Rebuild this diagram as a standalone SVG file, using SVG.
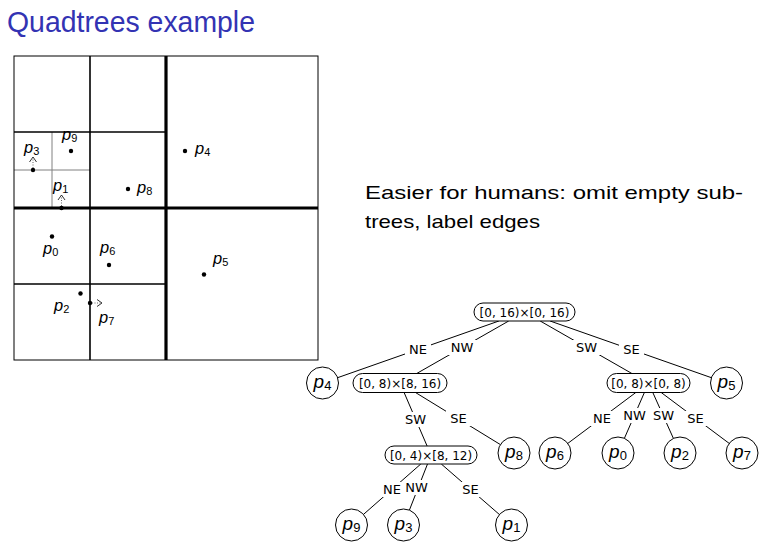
<svg xmlns="http://www.w3.org/2000/svg" width="767" height="549" viewBox="0 0 767 549">
<defs>
<style>
.title{font-family:"Liberation Sans","DejaVu Sans",sans-serif;font-size:29px;fill:#3333b3}
.body{font-family:"Liberation Sans","DejaVu Sans",sans-serif;font-size:19px;fill:#000}
.pl{font-family:"Liberation Sans","DejaVu Sans",sans-serif;font-size:16.5px;fill:#000}
.pi{font-style:italic}
.sub{font-size:11px}
.grid{fill:none;stroke:#000}
.thin{stroke:#808080;stroke-width:1}
.dot{fill:#000}
.mk{stroke:#666;stroke-width:1;stroke-dasharray:1 1.5;fill:none}
.box{fill:#fff;stroke:#000;stroke-width:1}
.bt{font-family:"DejaVu Sans",sans-serif;font-size:12px;text-anchor:middle;fill:#000}
.ct{font-family:"Liberation Sans","DejaVu Sans",sans-serif;font-size:19px;text-anchor:middle;fill:#000}
.cs{font-size:13px}
.edge{stroke:#000;stroke-width:1;fill:none}
.lb{fill:#fff}
.lt{font-family:"DejaVu Sans",sans-serif;font-size:13px;text-anchor:middle;fill:#000}
</style>
<marker id="ah" viewBox="0 0 10 10" refX="7" refY="5" markerWidth="10" markerHeight="10" markerUnits="userSpaceOnUse" orient="auto">
<path d="M2,1.5 L7,5 L2,8.5" fill="none" stroke="#333" stroke-width="1"/>
</marker>
</defs>
<rect width="767" height="549" fill="#fff"/>
<text class="title" x="7" y="32" textLength="248" lengthAdjust="spacingAndGlyphs">Quadtrees example</text>

<g id="quadtree-plane">
<line class="thin" x1="52" y1="132" x2="52" y2="208"/>
<line class="thin" x1="14" y1="170" x2="90" y2="170"/>
<line class="grid" stroke-width="1.6" x1="90" y1="56" x2="90" y2="360"/>
<line class="grid" stroke-width="1.6" x1="14" y1="132" x2="166" y2="132"/>
<line class="grid" stroke-width="1.6" x1="14" y1="284" x2="166" y2="284"/>
<line class="grid" stroke-width="3.2" x1="166" y1="56" x2="166" y2="360"/>
<line class="grid" stroke-width="3.2" x1="14" y1="208" x2="318" y2="208"/>
<rect class="grid" stroke-width="1" x="14" y="56" width="304" height="304"/>
<circle class="dot" cx="33" cy="170" r="2.2"/>
<circle class="dot" cx="71" cy="151" r="2.2"/>
<circle class="dot" cx="61.5" cy="208" r="2.2"/>
<circle class="dot" cx="128" cy="189" r="2.2"/>
<circle class="dot" cx="185" cy="151" r="2.2"/>
<circle class="dot" cx="52" cy="236.5" r="2.2"/>
<circle class="dot" cx="109" cy="265" r="2.2"/>
<circle class="dot" cx="204" cy="274.5" r="2.2"/>
<circle class="dot" cx="80.5" cy="293.5" r="2.2"/>
<circle class="dot" cx="90" cy="303" r="2.2"/>
<line class="mk" x1="33" y1="168" x2="33" y2="157" marker-end="url(#ah)"/>
<line class="mk" x1="61.5" y1="206" x2="61.5" y2="195" marker-end="url(#ah)"/>
<line class="mk" x1="92" y1="303" x2="102" y2="303" marker-end="url(#ah)"/>
<text class="pl" x="24" y="153"><tspan class="pi">p</tspan><tspan class="sub" dy="2">3</tspan></text>
<text class="pl" x="62" y="140"><tspan class="pi">p</tspan><tspan class="sub" dy="2">9</tspan></text>
<text class="pl" x="53" y="191"><tspan class="pi">p</tspan><tspan class="sub" dy="2">1</tspan></text>
<text class="pl" x="137" y="193"><tspan class="pi">p</tspan><tspan class="sub" dy="2">8</tspan></text>
<text class="pl" x="195" y="154"><tspan class="pi">p</tspan><tspan class="sub" dy="2">4</tspan></text>
<text class="pl" x="43" y="254"><tspan class="pi">p</tspan><tspan class="sub" dy="2">0</tspan></text>
<text class="pl" x="100" y="253"><tspan class="pi">p</tspan><tspan class="sub" dy="2">6</tspan></text>
<text class="pl" x="213" y="264"><tspan class="pi">p</tspan><tspan class="sub" dy="2">5</tspan></text>
<text class="pl" x="54" y="311"><tspan class="pi">p</tspan><tspan class="sub" dy="2">2</tspan></text>
<text class="pl" x="99" y="323"><tspan class="pi">p</tspan><tspan class="sub" dy="2">7</tspan></text>
</g>

<g id="caption">
<text class="body" x="365" y="199" textLength="378" lengthAdjust="spacingAndGlyphs">Easier for humans:  omit empty sub-</text>
<text class="body" x="365" y="228" textLength="175" lengthAdjust="spacingAndGlyphs">trees, label edges</text>
</g>

<g id="connectors">
<line class="edge" x1="498.9" y1="321" x2="337.6" y2="377.7"/>
<line class="edge" x1="508.7" y1="321" x2="416.7" y2="373.5"/>
<line class="edge" x1="540.2" y1="321" x2="631.9" y2="373.5"/>
<line class="edge" x1="550.1" y1="321" x2="711.4" y2="377.7"/>
<line class="edge" x1="404.1" y1="392.5" x2="427.1" y2="446"/>
<line class="edge" x1="415.5" y1="392.5" x2="500.4" y2="444.6"/>
<line class="edge" x1="635.8" y1="392.5" x2="567.8" y2="443.4"/>
<line class="edge" x1="644.4" y1="392.5" x2="624.4" y2="438.3"/>
<line class="edge" x1="652.8" y1="392.5" x2="673.4" y2="438.4"/>
<line class="edge" x1="661.2" y1="392.5" x2="729.2" y2="443.4"/>
<line class="edge" x1="420.8" y1="464" x2="363.5" y2="514.4"/>
<line class="edge" x1="427.5" y1="464" x2="409.4" y2="510.1"/>
<line class="edge" x1="441.3" y1="464" x2="499.4" y2="514.5"/>
<rect class="lb" x="405" y="342" width="26" height="15"/>
<text class="lt" x="418" y="354">NE</text>
<rect class="lb" x="448" y="340" width="28" height="15"/>
<text class="lt" x="462" y="352">NW</text>
<rect class="lb" x="573" y="340" width="27" height="15"/>
<text class="lt" x="586.5" y="352">SW</text>
<rect class="lb" x="619" y="342" width="25" height="15"/>
<text class="lt" x="631.5" y="354">SE</text>
<rect class="lb" x="402" y="412" width="27" height="15"/>
<text class="lt" x="415.5" y="424">SW</text>
<rect class="lb" x="446" y="411" width="25" height="15"/>
<text class="lt" x="458.5" y="423">SE</text>
<rect class="lb" x="589" y="411" width="26" height="15"/>
<text class="lt" x="602" y="423">NE</text>
<rect class="lb" x="621" y="408" width="27" height="15"/>
<text class="lt" x="634.5" y="420">NW</text>
<rect class="lb" x="650" y="408" width="27" height="15"/>
<text class="lt" x="663.5" y="420">SW</text>
<rect class="lb" x="683" y="411" width="25" height="15"/>
<text class="lt" x="695.5" y="423">SE</text>
<rect class="lb" x="379" y="482" width="26" height="15"/>
<text class="lt" x="392" y="494">NE</text>
<rect class="lb" x="403" y="480" width="27" height="15"/>
<text class="lt" x="416.5" y="492">NW</text>
<rect class="lb" x="458" y="482" width="25" height="15"/>
<text class="lt" x="470.5" y="494">SE</text>
</g>

<g id="node-root">
<rect class="box" x="474" y="303" width="101" height="18" rx="9"/>
<text class="bt" x="524.5" y="316.5">[0, 16)×[0, 16)</text>
</g>
<g id="node-nw">
<rect class="box" x="353" y="373.5" width="94" height="19" rx="9.5"/>
<text class="bt" x="400" y="387.5">[0, 8)×[8, 16)</text>
</g>
<g id="node-sw">
<rect class="box" x="607" y="373.5" width="83" height="19" rx="9.5"/>
<text class="bt" x="648.5" y="387.5">[0, 8)×[0, 8)</text>
</g>
<g id="node-nw-sw">
<rect class="box" x="385" y="446" width="92" height="18" rx="9"/>
<text class="bt" x="431" y="459.5">[0, 4)×[8, 12)</text>
</g>
<g id="node-p4"><circle class="box" cx="322.5" cy="383" r="16"/><text class="ct" x="322.5" y="388"><tspan class="pi">p</tspan><tspan class="cs" dy="2">4</tspan></text></g>
<g id="node-p5"><circle class="box" cx="726.5" cy="383" r="16"/><text class="ct" x="726.5" y="388"><tspan class="pi">p</tspan><tspan class="cs" dy="2">5</tspan></text></g>
<g id="node-p8"><circle class="box" cx="514" cy="453" r="16"/><text class="ct" x="514" y="458"><tspan class="pi">p</tspan><tspan class="cs" dy="2">8</tspan></text></g>
<g id="node-p6"><circle class="box" cx="555" cy="453" r="16"/><text class="ct" x="555" y="458"><tspan class="pi">p</tspan><tspan class="cs" dy="2">6</tspan></text></g>
<g id="node-p0"><circle class="box" cx="618" cy="453" r="16"/><text class="ct" x="618" y="458"><tspan class="pi">p</tspan><tspan class="cs" dy="2">0</tspan></text></g>
<g id="node-p2"><circle class="box" cx="680" cy="453" r="16"/><text class="ct" x="680" y="458"><tspan class="pi">p</tspan><tspan class="cs" dy="2">2</tspan></text></g>
<g id="node-p7"><circle class="box" cx="742" cy="453" r="16"/><text class="ct" x="742" y="458"><tspan class="pi">p</tspan><tspan class="cs" dy="2">7</tspan></text></g>
<g id="node-p9"><circle class="box" cx="351.5" cy="525" r="16"/><text class="ct" x="351.5" y="530"><tspan class="pi">p</tspan><tspan class="cs" dy="2">9</tspan></text></g>
<g id="node-p3"><circle class="box" cx="403.5" cy="525" r="16"/><text class="ct" x="403.5" y="530"><tspan class="pi">p</tspan><tspan class="cs" dy="2">3</tspan></text></g>
<g id="node-p1"><circle class="box" cx="511.5" cy="525" r="16"/><text class="ct" x="511.5" y="530"><tspan class="pi">p</tspan><tspan class="cs" dy="2">1</tspan></text></g>
</svg>
